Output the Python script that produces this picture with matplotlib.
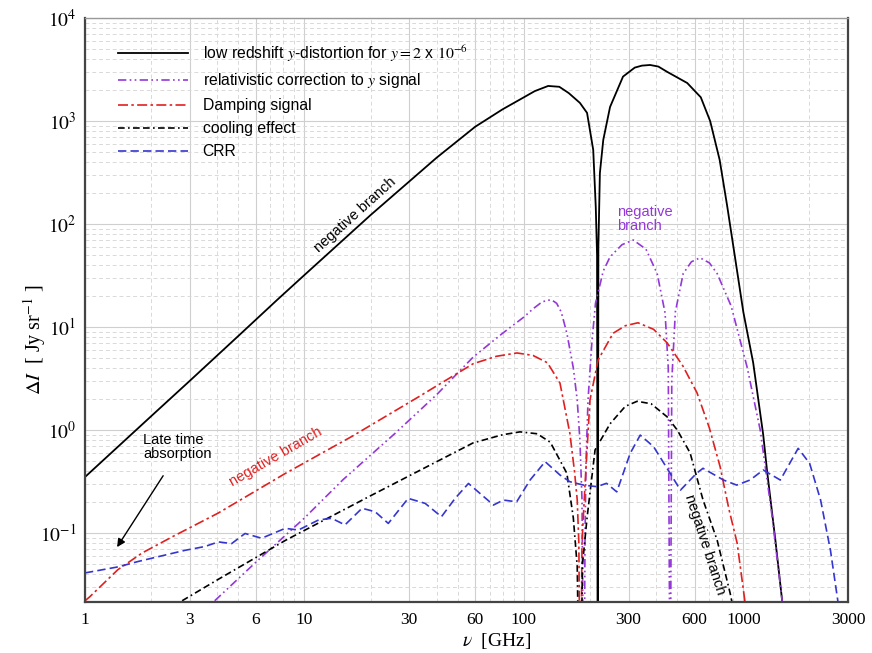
import math
import matplotlib
matplotlib.use("Agg")
import matplotlib.pyplot as plt
from matplotlib.ticker import FixedLocator, FuncFormatter, NullFormatter

plt.rcParams['font.family'] = ['Liberation Sans', 'DejaVu Sans']
plt.rcParams['mathtext.fontset'] = 'stix'

# low redshift y-distortion (|dI|, Jy/sr), y = 2e-6
nu_y = [1, 2, 3, 5, 7.5, 10, 20, 40, 60, 80, 100, 112, 129, 145, 160, 180, 194, 207, 212.6,
        215.5, 217, 218.5, 222, 230, 247, 283, 320, 345, 376, 410, 450, 555, 640, 706, 780,
        844, 920, 1000, 1109, 1232, 1283, 1400, 1503, 1600]
dI_y = [0.35, 1.36, 3.0, 8.2, 18.3, 32, 122, 440, 880, 1300, 1700, 1950, 2190, 2150, 1870, 1500,
        1200, 525, 146, 50, 1e-3, 60, 313, 655, 1370, 2700, 3300, 3450, 3500, 3380, 3000, 2340,
        1700, 1000, 420, 150, 45, 14, 4.5, 0.9, 0.4, 0.085, 0.022, 0.005]

# relativistic correction to y signal
nu_rel = [3.9, 6, 10, 15, 25.9, 40, 58.7, 80, 100, 110, 120, 127, 134, 141, 148, 157, 168, 175,
          180, 184, 187.5, 190, 192, 196, 204, 212, 230, 247, 280, 315, 360, 405, 440, 455, 464,
          472, 490, 532, 580, 635, 700, 760, 880, 1040, 1194, 1350, 1503, 1600]
dI_rel = [0.022, 0.052, 0.14, 0.33, 0.93, 2.2, 5.1, 8.7, 12.5, 15, 17.3, 18.2, 18.3, 17, 14, 8.7,
          4, 1.95, 0.8, 0.21, 1e-3, 0.1, 0.5, 1.95, 7, 17, 35, 48, 63, 70, 57, 33, 13.7, 4, 1e-3,
          3, 14, 33, 43, 47, 42, 33, 16, 4.1, 1.0, 0.15, 0.022, 0.006]

# damping signal
nu_damp = [1, 1.05, 1.41, 1.82, 2.5, 4.04, 8.2, 16.5, 33, 58.7, 75, 93, 110, 128, 146, 162, 170,
           175, 178, 181, 184, 190, 200, 218, 255, 290, 331, 390, 450, 530, 615, 700, 784, 860,
           937, 1019, 1080]
dI_damp = [0.022, 0.024, 0.044, 0.064, 0.092, 0.156, 0.38, 0.87, 2.09, 4.4, 5.2, 5.6, 5.3, 4.5,
           2.86, 0.93, 0.4, 0.21, 0.08, 1e-3, 0.08, 0.3, 1.95, 4.8, 8.7, 10.3, 11, 9.5, 7, 4.2,
           2.3, 1.05, 0.44, 0.17, 0.08, 0.021, 0.008]

# cooling effect
nu_cool = [2.77, 4, 8.2, 20, 58.7, 80, 96, 115, 132, 157, 168, 175, 180, 185, 194, 211, 247, 290,
           328, 380, 450, 500, 572, 655, 760, 871, 889, 950]
dI_cool = [0.022, 0.035, 0.085, 0.23, 0.75, 0.9, 0.96, 0.92, 0.76, 0.38, 0.14, 0.0475, 1e-3, 0.05,
           0.14, 0.64, 1.15, 1.7, 1.9, 1.8, 1.34, 1.0, 0.6, 0.21, 0.085, 0.026, 0.021, 0.01]

# CRR
nu_crr = [1, 1.42, 1.75, 2.16, 2.86, 3.52, 4.05, 4.66, 5.36, 6.38, 8.17, 9.39, 11.6, 13.3, 15.3,
          18.3, 21.0, 24.1, 29.7, 35.5, 42.1, 48.6, 55.9, 64.3, 72.7, 80.6, 92.7, 106.7, 125,
          146, 162, 187, 215, 238, 265, 305, 339, 390, 464, 517, 612, 655, 812, 933, 1073, 1232,
          1474, 1778, 2005, 2250, 2495, 2704]
dI_crr = [0.041, 0.047, 0.053, 0.059, 0.068, 0.074, 0.082, 0.079, 0.099, 0.089, 0.111, 0.107,
          0.134, 0.139, 0.12, 0.174, 0.161, 0.124, 0.217, 0.194, 0.144, 0.217, 0.303, 0.234,
          0.187, 0.209, 0.201, 0.327, 0.493, 0.366, 0.315, 0.292, 0.282, 0.304, 0.251, 0.593,
          0.893, 0.689, 0.38, 0.261, 0.38, 0.425, 0.327, 0.292, 0.327, 0.409, 0.327, 0.664,
          0.475, 0.209, 0.068, 0.021]

x_major = [1, 3, 6, 10, 30, 60, 100, 300, 600, 1000, 3000]
x_labels = ['1', '3', '6', '10', '30', '60', '100', '300', '600', '1000', '3000']

fig = plt.figure(figsize=(8.72, 6.53), dpi=100)
ax = fig.add_axes([0.0975, 0.0781, 0.875, 0.8943])

ax.plot(nu_y, dI_y, color='black', lw=1.3,
        label=r'low redshift $y$-distortion for $y = 2$ x $10^{-6}$')
ax.plot(nu_rel, dI_rel, color='#9438d8', lw=1.2, ls=(0, (5, 2, 1, 2, 1, 2)),
        label=r'relativistic correction to $y$ signal')
ax.plot(nu_damp, dI_damp, color='#e02020', lw=1.2, ls=(0, (6, 2, 1.5, 2)),
        label='Damping signal')
ax.plot(nu_cool, dI_cool, color='black', lw=1.2, ls=(0, (4, 2, 1, 2, 4, 2)),
        label='cooling effect')
ax.plot(nu_crr, dI_crr, color='#3535d0', lw=1.2, ls=(0, (5, 2.5)), label='CRR')

ax.set_xscale('log')
ax.set_yscale('log')
ax.set_xlim(1, 3000)
ax.set_ylim(0.0214, 1e4)

minors = []
for d in [1, 10, 100, 1000]:
    for m in range(1, 10):
        v = d * m
        if v <= 3000 and v not in x_major:
            minors.append(v)
ax.xaxis.set_major_locator(FixedLocator(x_major))
ax.xaxis.set_minor_locator(FixedLocator(minors))
ax.set_xticklabels(x_labels)
ax.xaxis.set_minor_formatter(NullFormatter())
ax.yaxis.set_major_formatter(FuncFormatter(lambda v, p: r'$10^{%d}$' % round(math.log10(v))))

for lab in ax.get_xticklabels():
    lab.set_family('Liberation Serif')
ax.tick_params(axis='x', which='both', length=0, pad=7, labelsize=12.5)
ax.tick_params(axis='y', which='both', length=0, pad=6, labelsize=14)

ax.grid(which='major', color='#cfcfcf', lw=0.8, ls='-')
ax.grid(which='minor', color='#d9d9d9', lw=0.7, ls=(0, (4, 3)))
ax.set_axisbelow(True)

for s in ['left', 'bottom', 'right']:
    ax.spines[s].set_color('#444444')
    ax.spines[s].set_linewidth(1.6)
ax.spines['top'].set_color('#999999')
ax.spines['top'].set_linewidth(1.0)

ax.set_xlabel(r'$\nu$  [GHz]', family='Liberation Serif', fontsize=14, x=0.54, labelpad=2)
ax.set_ylabel(r'$\Delta I$  [ Jy sr$^{-1}$ ]', family='Liberation Serif', fontsize=14.5,
              y=0.45, labelpad=-6)

leg = ax.legend(loc='upper left', bbox_to_anchor=(0.043, 0.957), frameon=False, fontsize=11.3,
                handlelength=4.5, handletextpad=0.9, labelspacing=0.5, borderpad=0,
                borderaxespad=0)

# annotations
ax.text(17, 122, 'negative branch', rotation=42, fontsize=10.5, ha='center', va='center',
        rotation_mode='anchor')
ax.text(7.4, 0.55, 'negative branch', rotation=30, fontsize=10.5, color='#e02020',
        ha='center', va='center', rotation_mode='anchor')
ax.text(266, 112, 'negative\nbranch', fontsize=10.5, color='#9438d8', ha='left',
        va='center', linespacing=1.0)
ax.text(670, 0.078, 'negative branch', rotation=-72, fontsize=10.5, ha='center',
        va='center', rotation_mode='anchor')
ax.text(1.84, 0.68, 'Late time\nabsorption', fontsize=10.5, ha='left', va='center',
        linespacing=1.0)
ax.annotate('', xy=(1.40, 0.073), xytext=(2.27, 0.36),
            arrowprops=dict(arrowstyle='-|>', color='black', lw=1.0, shrinkA=0, shrinkB=0,
                            mutation_scale=12))

fig.savefig('out.png', dpi=100)
